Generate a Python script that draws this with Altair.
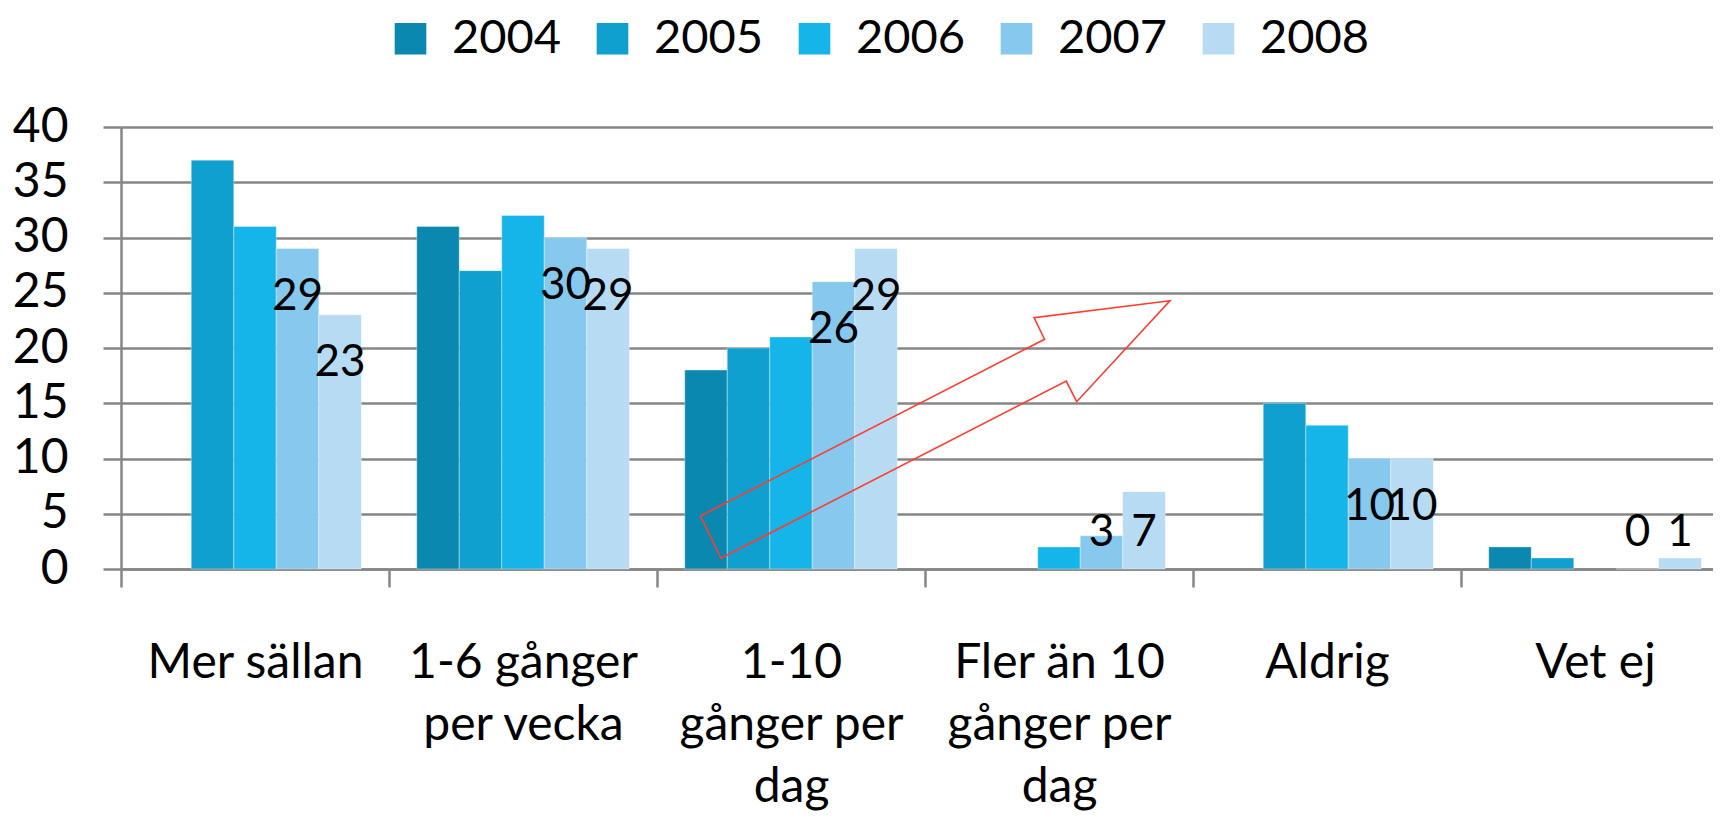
import altair as alt
import pandas as pd

categories = ["Mer sällan", "1-6 gånger\nper vecka", "1-10\ngånger per\ndag",
              "Fler än 10\ngånger per\ndag", "Aldrig", "Vet ej"]
years = ["2004", "2005", "2006", "2007", "2008"]
values = {
    "2004": [None, 31, 18, None, None, 2],
    "2005": [37, 27, 20, None, 15, 1],
    "2006": [31, 32, 21, 2, 13, None],
    "2007": [29, 30, 26, 3, 10, 0],
    "2008": [23, 29, 29, 7, 10, 1],
}
labelled_years = ["2007", "2008"]
colors = ["#0B88B0", "#10A0CF", "#16B5E9", "#86C8EE", "#B6DBF3"]

# red arrow annotation: x in category units (0..6), y in value units
arrow_x = [2.162, 2.239, 3.527, 3.566, 3.914, 3.407, 3.446, 2.162]
arrow_y = [4.80, 0.97, 17.01, 15.14, 24.28, 22.74, 20.79, 4.80]

rows = []
for y in years:
    for c, v in zip(categories, values[y]):
        rows.append({"cat": c, "year": y, "value": v,
                     "lab": (y in labelled_years and v is not None)})
df = pd.DataFrame(rows)
arrow_df = pd.DataFrame({"ax": arrow_x, "ay": arrow_y, "o": list(range(len(arrow_x)))})

FONT = "Lato"
GRAY = "#868686"
XRANGE = [0, 1608]

xenc = alt.X("cat:N", sort=categories, title=None,
             scale=alt.Scale(domain=categories, range=XRANGE, paddingInner=0, paddingOuter=0),
             axis=alt.Axis(labelAngle=0, labelFont=FONT, labelFontSize=48, labelColor="black",
                           labelLimit=0, labelLineHeight=62, labelBaseline="top",
                           labelPadding=52, labelExpr="split(datum.label, '\\n')",
                           tickBand="extent", tickSize=18, tickColor=GRAY, tickWidth=2.5,
                           domainColor=GRAY, domainWidth=2.5, grid=False))
xoff = alt.XOffset("year:N", sort=years,
                   scale=alt.Scale(domain=years, paddingInner=0, paddingOuter=0.653))
yenc = alt.Y("value:Q", title=None,
             scale=alt.Scale(domain=[0, 40], nice=False),
             axis=alt.Axis(values=list(range(0, 41, 5)), labelFont=FONT, labelFontSize=48,
                           labelColor="black", labelPadding=35, tickSize=18, tickColor=GRAY,
                           tickWidth=2.5, domainColor=GRAY, domainWidth=2.5, grid=True,
                           gridColor=GRAY, gridWidth=2.5))

bars = alt.Chart(df).mark_bar(stroke="white", strokeOpacity=0.35, strokeWidth=1).encode(
    x=xenc, xOffset=xoff, y=yenc,
    color=alt.Color("year:N", sort=years,
                    scale=alt.Scale(domain=years, range=colors),
                    legend=alt.Legend(title=None, orient="none", direction="horizontal",
                                      legendX=266, legendY=-112, labelFont=FONT,
                                      labelFontSize=47, labelColor="black", labelLimit=0,
                                      symbolType="square", symbolSize=1000,
                                      symbolStrokeWidth=0, labelOffset=18,
                                      columnPadding=27, padding=0)),
)

text = alt.Chart(df).transform_filter("datum.lab").transform_calculate(
    lp="max(datum.value, 7.6)"
).mark_text(font=FONT, fontSize=44, color="black", baseline="middle", dy=48).encode(
    x=alt.X("cat:N", sort=categories),
    xOffset=xoff,
    y=alt.Y("lp:Q"),
    text=alt.Text("value:Q", format="d"),
)

arrow = alt.Chart(arrow_df).mark_line(color="#FF3B2F", strokeWidth=1.6).encode(
    x=alt.X("ax:Q", scale=alt.Scale(domain=[0, 6], range=XRANGE), axis=None),
    y=alt.Y("ay:Q"),
    order="o:O",
)

chart = alt.layer(alt.layer(bars, text), arrow).resolve_scale(x="independent").properties(
    width=1592, height=442,
    autosize=alt.AutoSizeParams(type="none"),
    padding={"left": 113, "top": 119, "right": 0, "bottom": 244},
).configure_view(stroke=None).configure(background="white")

chart.save("out.html", embed_options={"renderer": "svg", "actions": False})
